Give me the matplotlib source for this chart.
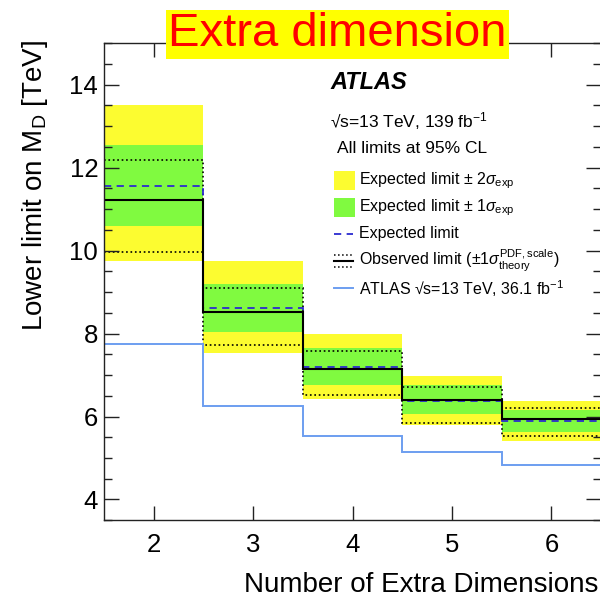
import matplotlib
matplotlib.use('Agg')
import matplotlib.pyplot as plt
from matplotlib.ticker import MultipleLocator
from matplotlib.patches import Rectangle
from matplotlib.lines import Line2D
import numpy as np

plt.rcParams['font.family'] = ['Liberation Sans', 'DejaVu Sans']
plt.rcParams['mathtext.fontset'] = 'custom'
plt.rcParams['mathtext.rm'] = 'Liberation Sans'
plt.rcParams['mathtext.it'] = 'Liberation Sans:italic'
plt.rcParams['mathtext.bf'] = 'Liberation Sans:bold'

# limits on M_D [TeV] per number of extra dimensions
n_dims = [2, 3, 4, 5, 6]
exp_2sig_up = [13.50, 9.76, 7.98, 6.97, 6.37]
exp_2sig_dn = [9.74, 7.53, 6.43, 5.79, 5.42]
exp_1sig_up = [12.55, 9.20, 7.65, 6.75, 6.15]
exp_1sig_dn = [10.59, 8.03, 6.77, 6.07, 5.62]
expected = [11.56, 8.62, 7.20, 6.37, 5.90]
observed = [11.21, 8.51, 7.15, 6.39, 5.93]
obs_theory_up = [12.18, 9.10, 7.57, 6.72, 6.21]
obs_theory_dn = [9.96, 7.73, 6.53, 5.85, 5.53]
atlas_36fb = [7.76, 6.25, 5.53, 5.14, 4.82]

legend_labels = [r'Expected limit $\pm$ 2$\sigma_{\rm exp}$',
                 r'Expected limit $\pm$ 1$\sigma_{\rm exp}$',
                 'Expected limit',
                 r'Observed limit ($\pm$1$\sigma^{\rm PDF,scale}_{\rm theory}$)',
                 u'ATLAS \u221As=13 TeV, 36.1 fb$^{-1}$']

c_yellow = '#fcfc30'
c_green = '#80fa40'
c_dash = '#2b2bd0'
c_old = '#6d9ef0'

edges = np.arange(n_dims[0] - 0.5, n_dims[-1] + 1.0, 1.0)

fig = plt.figure(figsize=(6, 6), dpi=100)
ax = fig.add_axes([0.173, 0.133, 0.829, 0.795])

ax.stairs(exp_2sig_up, edges, baseline=exp_2sig_dn, fill=True, color=c_yellow, lw=0)
ax.stairs(exp_1sig_up, edges, baseline=exp_1sig_dn, fill=True, color=c_green, lw=0)
ax.stairs(obs_theory_up, edges, baseline=None, color='black', ls=':', lw=1.2)
ax.stairs(obs_theory_dn, edges, baseline=None, color='black', ls=':', lw=1.2)
ax.stairs(expected, edges, baseline=None, color=c_dash, ls=(0, (4, 3)), lw=1.3)
ax.stairs(observed, edges, baseline=None, color='black', lw=1.5)
ax.stairs(atlas_36fb, edges, baseline=None, color=c_old, lw=1.4)

ax.set_xlim(edges[0], edges[-1])
ax.set_ylim(3.5, 15.0)
ax.set_xticks(n_dims)
ax.yaxis.set_major_locator(MultipleLocator(2))
ax.yaxis.set_minor_locator(MultipleLocator(0.5))
ax.tick_params(which='both', direction='in', top=True, right=True,
               labelsize=18.5, color='#222222')
ax.tick_params(axis='y', which='major', length=11, width=1.0, pad=4)
ax.tick_params(axis='y', which='minor', length=5.5, width=1.0)
ax.tick_params(axis='x', which='major', length=10, width=1.0, pad=9)
for s in ax.spines.values():
    s.set_linewidth(1.0)
    s.set_color('#222222')

# header texts
ax.text(0.455, 0.918, 'ATLAS', transform=ax.transAxes, fontsize=17,
        fontweight='bold', fontstyle='italic', va='center', ha='left')
ax.text(0.455, 0.836, u'\u221As=13 TeV, 139 fb$^{-1}$', transform=ax.transAxes,
        fontsize=12.5, va='center', ha='left')
ax.text(0.468, 0.780, 'All limits at 95% CL', transform=ax.transAxes,
        fontsize=12.5, va='center', ha='left')

# legend drawn by hand
key_x0, key_x1, txt_x = 0.463, 0.505, 0.513
rows = [0.712, 0.656, 0.600, 0.543, 0.486]
for yc, fc in zip(rows[:2], [c_yellow, c_green]):
    ax.add_patch(Rectangle((key_x0, yc - 0.02), key_x1 - key_x0, 0.04,
                           transform=ax.transAxes, facecolor=fc, lw=0))
ax.add_line(Line2D([key_x0, key_x1 - 0.004], [rows[2]] * 2, transform=ax.transAxes,
                   color=c_dash, ls=(0, (4, 3)), lw=1.3))
ax.add_line(Line2D([key_x0, key_x1 - 0.004], [rows[3]] * 2, transform=ax.transAxes,
                   color='black', lw=1.5))
for dy in (0.012, -0.012):
    ax.add_line(Line2D([key_x0, key_x1 - 0.004], [rows[3] + dy] * 2,
                       transform=ax.transAxes, color='black', ls=':', lw=1.1))
ax.add_line(Line2D([key_x0, key_x1 - 0.004], [rows[4]] * 2, transform=ax.transAxes,
                   color=c_old, lw=1.4))
for yc, lab in zip(rows, legend_labels):
    ax.text(txt_x, yc, lab, transform=ax.transAxes, fontsize=11.5,
            va='center', ha='left')

fig.text(0.058, 0.933, 'Lower limit on M$_{\\rm D}$ [TeV]', rotation=90,
         fontsize=20, va='top', ha='center')
fig.text(0.998, 0.025, 'Number of Extra Dimensions', fontsize=20,
         va='center', ha='right')

fig.text(0.562, 0.943, 'Extra dimension', fontsize=34, color='red',
         ha='center', va='center',
         bbox=dict(boxstyle='square,pad=0.05', facecolor='yellow', edgecolor='none'))

fig.savefig('out.png', dpi=100)
